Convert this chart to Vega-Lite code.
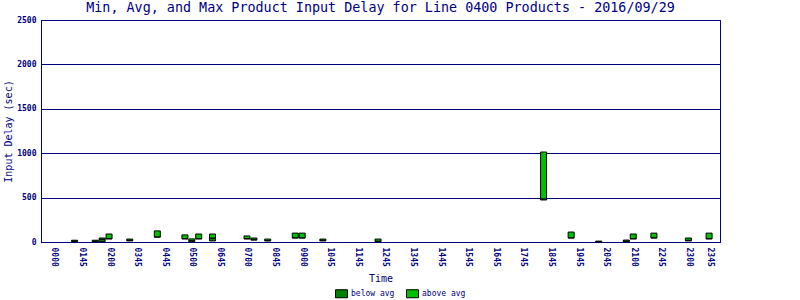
{
  "$schema": "https://vega.github.io/schema/vega-lite/v6.json",
  "autosize": "none",
  "width": 679,
  "height": 222,
  "padding": {"left": 41, "top": 20, "right": 80, "bottom": 58},
  "background": "white",
  "title": {
    "text": "Min, Avg, and Max Product Input Delay for Line 0400 Products - 2016/09/29",
    "font": "DejaVu Sans Mono",
    "fontSize": 13.4,
    "fontWeight": "normal",
    "color": "#000080",
    "anchor": "middle",
    "offset": 2
  },
  "config": {
    "view": {"stroke": "#000080", "strokeWidth": 1},
    "axis": {
      "domainColor": "#000080",
      "gridColor": "#000080",
      "gridOpacity": 1,
      "labelColor": "#000080",
      "titleColor": "#000080",
      "labelFont": "DejaVu Sans Mono",
      "titleFont": "DejaVu Sans Mono",
      "labelFontSize": 8,
      "labelFontWeight": "bold",
      "titleFontWeight": "normal",
      "titleFontSize": 10,
      "ticks": false
    }
  },
  "data": {
    "values": [
      {"slot": 4, "min": 2, "avg": 10, "max": 20},
      {"slot": 7, "min": 2, "avg": 8, "max": 20},
      {"slot": 8, "min": 5, "avg": 30, "max": 45},
      {"slot": 9, "min": 35, "avg": 38, "max": 90},
      {"slot": 12, "min": 12, "avg": 20, "max": 33},
      {"slot": 16, "min": 55, "avg": 58, "max": 125},
      {"slot": 20, "min": 35, "avg": 38, "max": 80},
      {"slot": 21, "min": 2, "avg": 15, "max": 35},
      {"slot": 22, "min": 35, "avg": 38, "max": 90},
      {"slot": 24, "min": 12, "avg": 45, "max": 90},
      {"slot": 29, "min": 35, "avg": 38, "max": 68},
      {"slot": 30, "min": 22, "avg": 26, "max": 45},
      {"slot": 32, "min": 12, "avg": 16, "max": 33},
      {"slot": 36, "min": 45, "avg": 48, "max": 100},
      {"slot": 37, "min": 45, "avg": 48, "max": 100},
      {"slot": 40, "min": 12, "avg": 20, "max": 33},
      {"slot": 48, "min": 5, "avg": 10, "max": 33},
      {"slot": 72, "min": 473, "avg": 485, "max": 1013},
      {"slot": 76, "min": 45, "avg": 48, "max": 112},
      {"slot": 80, "min": 0, "avg": 5, "max": 10},
      {"slot": 84, "min": 2, "avg": 10, "max": 22},
      {"slot": 85, "min": 35, "avg": 38, "max": 90},
      {"slot": 88, "min": 45, "avg": 48, "max": 100},
      {"slot": 93, "min": 12, "avg": 20, "max": 45},
      {"slot": 96, "min": 35, "avg": 38, "max": 100}
    ]
  },
  "encoding": {
    "x": {
      "field": "slot",
      "type": "quantitative",
      "scale": {"domain": [-0.143, 96.857], "nice": false, "zero": false},
      "axis": {
        "title": "Time",
        "titleY": 36,
        "titleBaseline": "middle",
        "grid": false,
        "values": [1,5,9,13,17,21,25,29,33,37,41,45,49,53,57,61,65,69,73,77,81,85,89,93,96],
        "labelAngle": 90,
        "labelPadding": 5,
        "labelOverlap": false,
        "labelExpr": "['0000','0145','0200','0345','0445','0500','0645','0700','0845','0900','1045','1145','1245','1345','1445','1545','1645','1745','1845','1945','2045','2100','2245','2300','2345'][floor(datum.value/4)]"
      }
    }
  },
  "layer": [
    {
      "mark": {"type": "bar", "size": 6, "stroke": "black", "strokeWidth": 1},
      "encoding": {
        "y": {
          "field": "min",
          "type": "quantitative",
          "scale": {"domain": [0, 2500], "nice": false},
          "axis": {
            "title": "Input Delay (sec)",
            "values": [0, 500, 1000, 1500, 2000, 2500],
            "format": "d",
            "grid": true,
            "labelPadding": 5,
            "titleX": -33,
            "titleY": 111,
            "titleAngle": -90,
            "titleAlign": "center",
            "titleBaseline": "middle"
          }
        },
        "y2": {"field": "avg"},
        "color": {
          "datum": "below avg",
          "type": "nominal",
          "scale": {"domain": ["below avg", "above avg"], "range": ["#008000", "#00C000"]},
          "legend": {
            "title": null,
            "orient": "none",
            "direction": "horizontal",
            "legendX": 294,
            "legendY": 267,
            "symbolType": "M-1,-0.667H1V0.667H-1Z",
            "symbolSize": 144,
            "symbolStrokeColor": "#808080",
            "symbolStrokeWidth": 1,
            "symbolOpacity": 1,
            "labelFont": "DejaVu Sans Mono",
            "labelFontSize": 8,
            "labelColor": "#000080",
            "labelOffset": 3,
            "columnPadding": 9
          }
        }
      }
    },
    {
      "mark": {"type": "bar", "size": 6, "stroke": "black", "strokeWidth": 1},
      "encoding": {
        "y": {"field": "avg", "type": "quantitative"},
        "y2": {"field": "max"},
        "color": {"datum": "above avg", "type": "nominal"}
      }
    }
  ]
}
